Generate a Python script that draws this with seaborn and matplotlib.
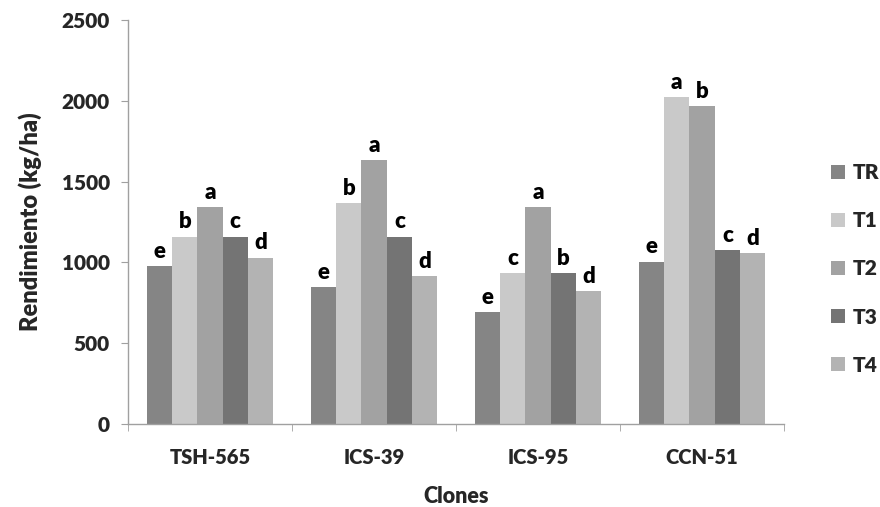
import pandas as pd
import seaborn as sns
import matplotlib.pyplot as plt
from matplotlib.ticker import FixedLocator

clones = ['TSH-565', 'ICS-39', 'ICS-95', 'CCN-51']
tratamientos = ['TR', 'T1', 'T2', 'T3', 'T4']

tr = [975, 845, 690, 1005]
t1 = [1160, 1365, 935, 2025]
t2 = [1340, 1635, 1340, 1965]
t3 = [1160, 1160, 935, 1075]
t4 = [1030, 915, 820, 1055]

letras = {
    'TR': ['e', 'e', 'e', 'e'],
    'T1': ['b', 'b', 'c', 'a'],
    'T2': ['a', 'a', 'a', 'b'],
    'T3': ['c', 'c', 'b', 'c'],
    'T4': ['d', 'd', 'd', 'd'],
}

colores = ['#858585', '#c9c9c9', '#a2a2a2', '#747474', '#b3b3b3']

valores = {'TR': tr, 'T1': t1, 'T2': t2, 'T3': t3, 'T4': t4}
rows = []
for t in tratamientos:
    for c, v in zip(clones, valores[t]):
        rows.append({'Clon': c, 'Tratamiento': t, 'Rendimiento': v})
df = pd.DataFrame(rows)

sns.set_style('white')
plt.rcParams['font.family'] = ['Lato', 'DejaVu Sans']
plt.rcParams['font.weight'] = 'heavy'

fig = plt.figure(figsize=(8.8, 5.07), dpi=100)
ax = fig.add_axes([0.1455, 0.1637, 0.7455, 0.797])

sns.barplot(data=df, x='Clon', y='Rendimiento', hue='Tratamiento',
            palette=colores, saturation=1, width=0.77, ax=ax,
            linewidth=0, errorbar=None)

for cont, t in zip(ax.containers, tratamientos):
    ax.bar_label(cont, labels=letras[t], padding=3, fontsize=16,
                 fontweight='heavy', color='black')

ax.set_ylim(0, 2500)
ax.set_xlim(-0.5, 3.5)
ax.set_yticks([0, 500, 1000, 1500, 2000, 2500])
ax.tick_params(axis='y', labelsize=15, length=5, color='#a0a0a0',
               direction='out', left=True, pad=8)
ax.tick_params(axis='x', which='major', labelsize=14.5, length=0, pad=17)
ax.xaxis.set_minor_locator(FixedLocator([-0.5, 0.5, 1.5, 2.5, 3.5]))
ax.tick_params(axis='x', which='minor', length=5, color='#a0a0a0',
               direction='out', bottom=True)

for s in ['top', 'right']:
    ax.spines[s].set_visible(False)
for s in ['left', 'bottom']:
    ax.spines[s].set_color('#a0a0a0')
    ax.spines[s].set_linewidth(1)

ax.set_xlabel('Clones', fontsize=15.5, fontweight='heavy', labelpad=14)
ax.set_ylabel('Rendimiento (kg/ha)', fontsize=17, fontweight='heavy', labelpad=14)

ax.legend(loc='center left', bbox_to_anchor=(1.0716, 0.384), frameon=False,
          handlelength=0.65, handleheight=0.65, borderpad=0, borderaxespad=0,
          labelspacing=1.4, handletextpad=0.4,
          prop={'weight': 'heavy', 'size': 15})

plt.savefig('out.png', dpi=100)
